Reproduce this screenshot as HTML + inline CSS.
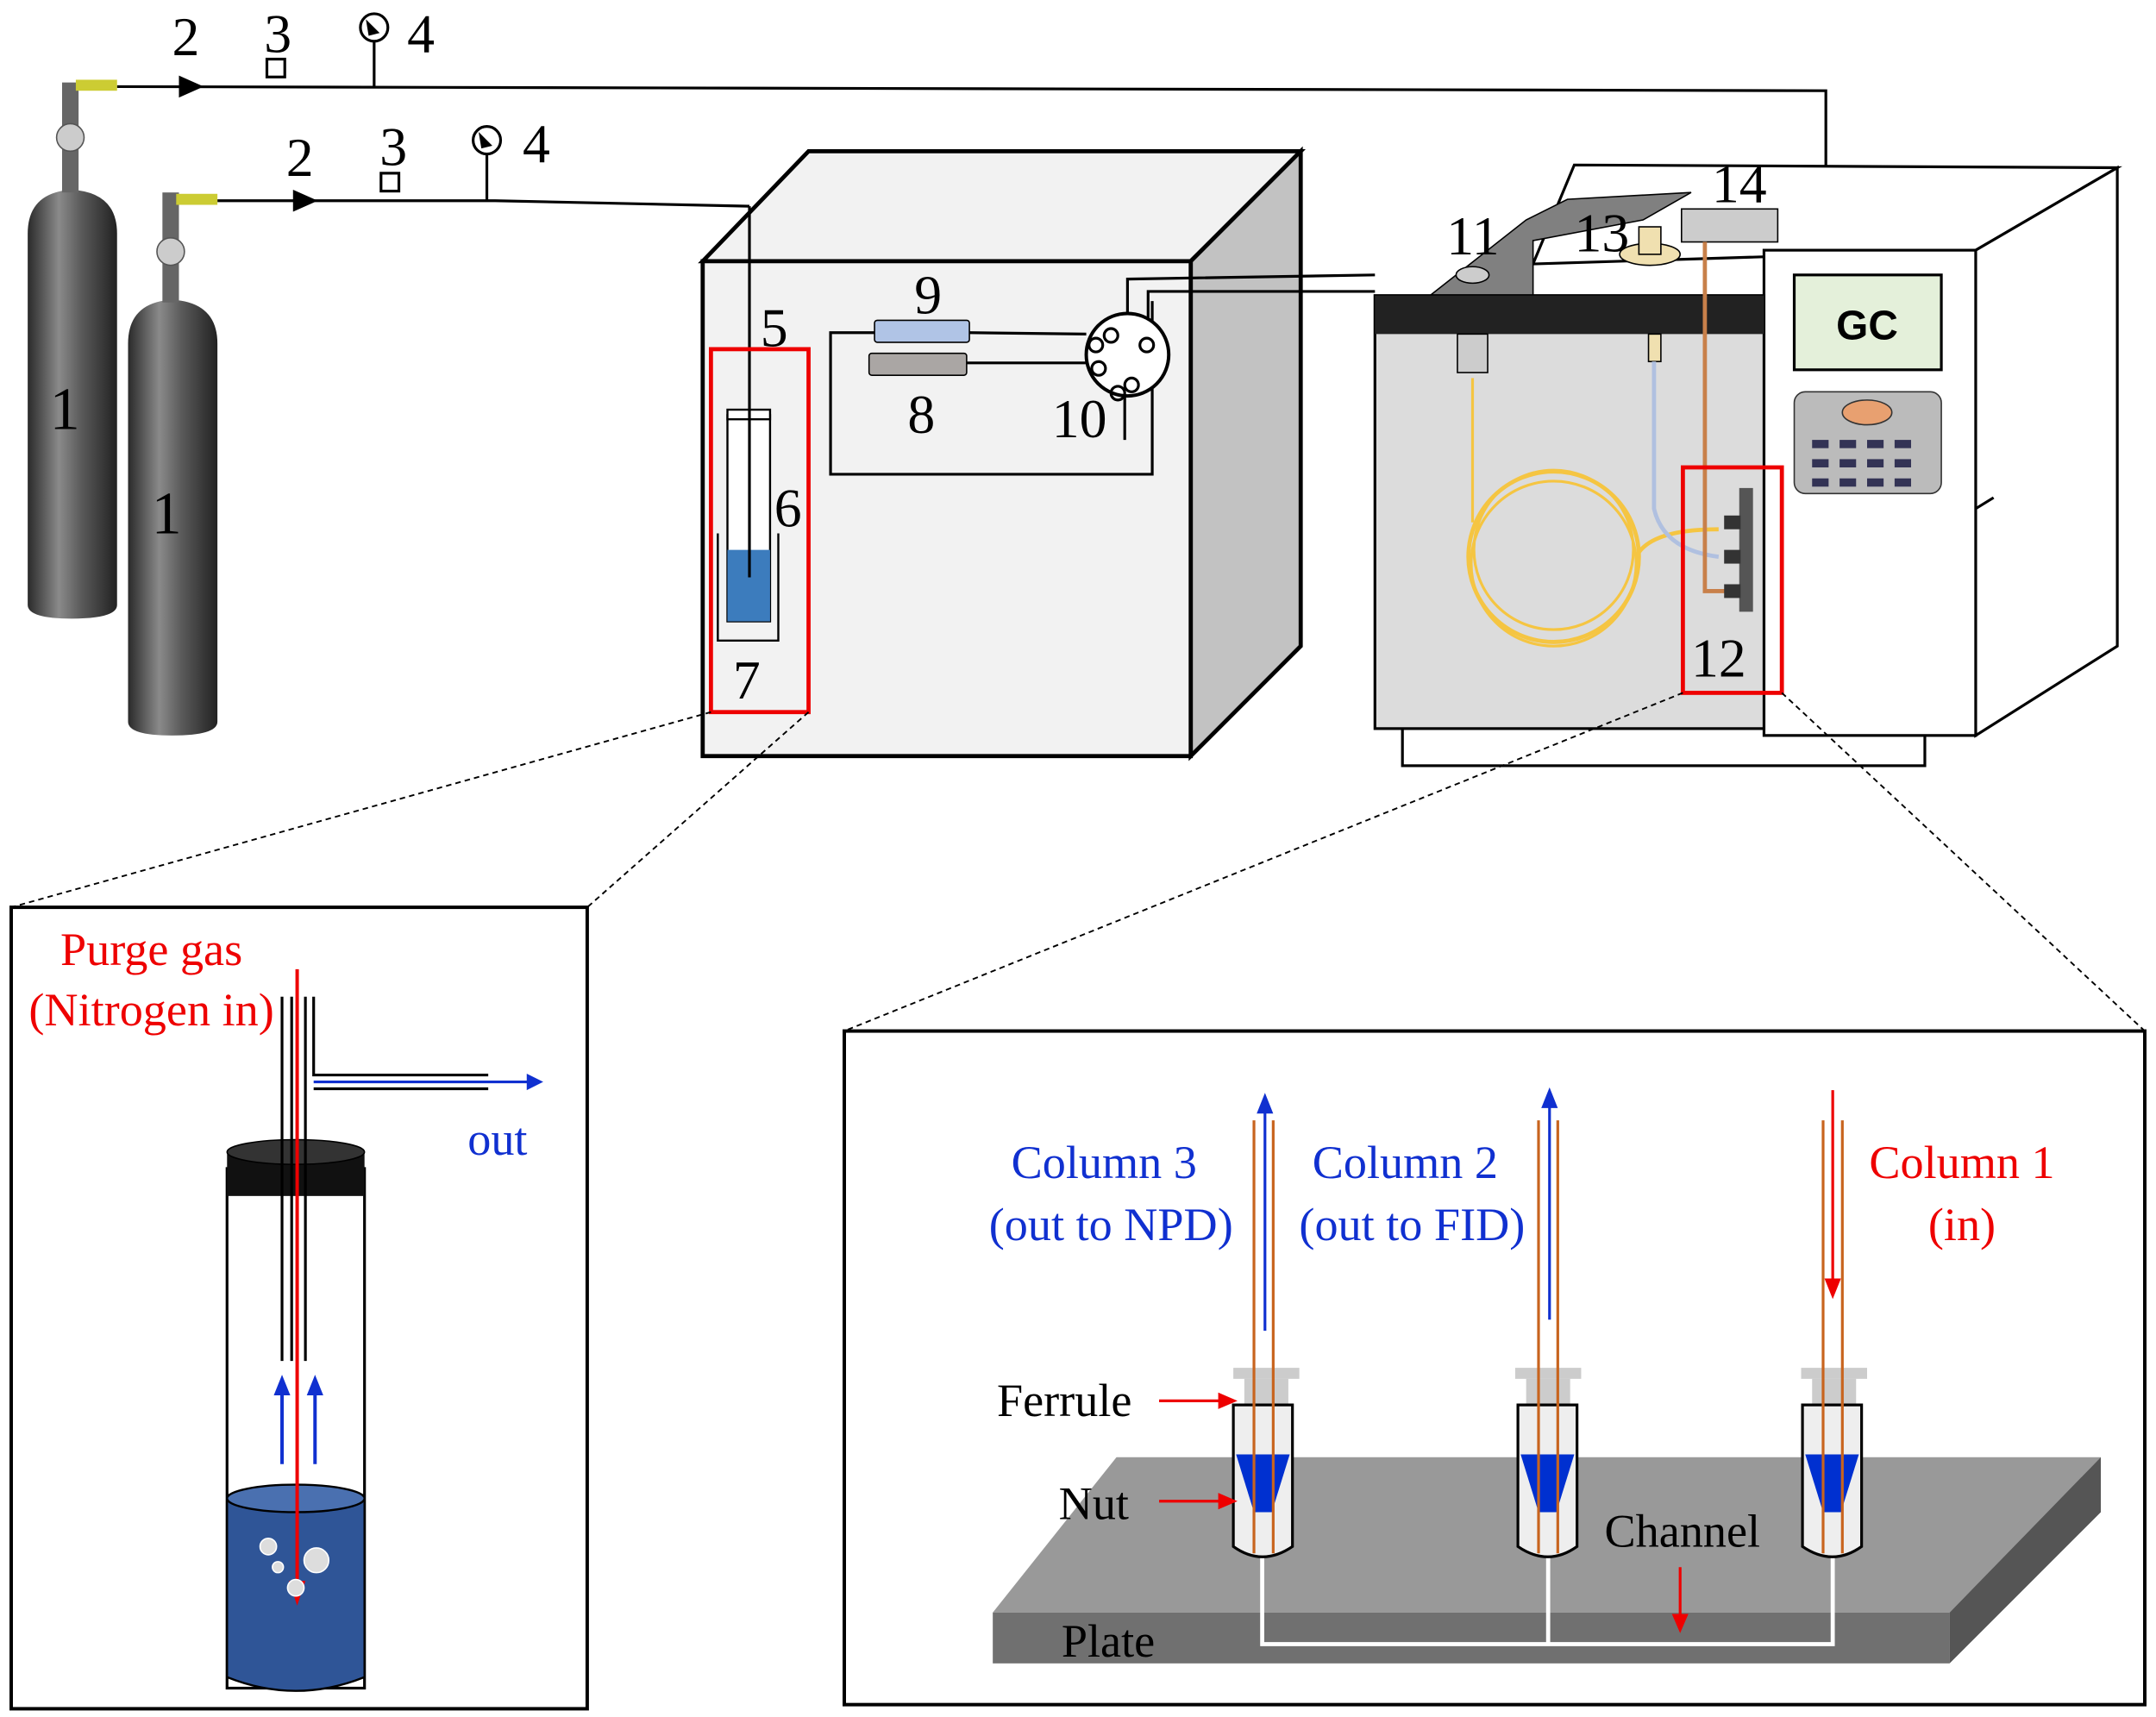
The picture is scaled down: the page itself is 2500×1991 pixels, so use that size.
<!DOCTYPE html>
<html><head><meta charset="utf-8"><style>html,body{margin:0;padding:0;background:#fff}svg{display:block}</style></head>
<body>
<svg width="2500" height="1991" viewBox="0 0 1568 1249" xmlns="http://www.w3.org/2000/svg" font-family="Liberation Serif, serif">
<defs>
<linearGradient id="cyl" x1="0" x2="1"><stop offset="0" stop-color="#2a2a2a"/><stop offset=".35" stop-color="#8a8a8a"/><stop offset=".6" stop-color="#5a5a5a"/><stop offset="1" stop-color="#222"/></linearGradient>
</defs>
<!-- gas lines -->
<g stroke="#000" stroke-width="2" fill="none">
<polyline points="85,63 1328,66 1328,155"/>
<polyline points="158,146 360,146 545,150"/>
<line x1="272" y1="28" x2="272" y2="63"/><line x1="354" y1="112" x2="354" y2="146"/>
<rect x="194" y="43" width="13" height="13" fill="#fff"/><rect x="277" y="126" width="13" height="13" fill="#fff"/>
<circle cx="272" cy="20" r="10" fill="#fff"/><circle cx="354" cy="102" r="10" fill="#fff"/>
</g>
<polygon points="130,55 148,63 130,71" /><polygon points="213,138 231,146 213,154"/>
<polygon points="266,14 276,24 268,26"/><polygon points="348,96 358,106 350,108"/>
<g font-size="40"><text x="125" y="40">2</text><text x="192" y="38">3</text><text x="296" y="38">4</text>
<text x="208" y="128">2</text><text x="276" y="120">3</text><text x="380" y="118">4</text></g>
<!-- cylinders -->
<path d="M20,170 Q20,140 52,138 Q85,140 85,170 L85,440 Q85,450 52,450 Q20,450 20,440 Z" fill="url(#cyl)"/>
<rect x="45" y="60" width="12" height="80" fill="#666"/><circle cx="51" cy="100" r="10" fill="#ccc" stroke="#555"/><rect x="55" y="58" width="30" height="8" fill="#cc3"/>
<path d="M93,250 Q93,220 125,218 Q158,220 158,250 L158,525 Q158,535 125,535 Q93,535 93,525 Z" fill="url(#cyl)"/>
<rect x="118" y="140" width="12" height="80" fill="#666"/><circle cx="124" cy="183" r="10" fill="#ccc" stroke="#555"/><rect x="128" y="141" width="30" height="8" fill="#cc3"/>
<text x="36" y="312" font-size="44">1</text><text x="110" y="388" font-size="44">1</text>
<!-- box 1 -->
<polygon points="511,190 588,110 946,110 866,190" fill="#f2f2f2" stroke="#000" stroke-width="3"/>
<polygon points="866,190 946,110 946,470 866,550" fill="#c2c2c2" stroke="#000" stroke-width="3"/>
<rect x="511" y="190" width="355" height="360" fill="#f2f2f2" stroke="#000" stroke-width="3"/>
<g stroke="#000" stroke-width="2" fill="none">
<polyline points="636,242 604,242 604,345 838,345 838,219"/>
<line x1="705" y1="242" x2="790" y2="243"/><line x1="703" y1="264" x2="790" y2="264"/>
<polyline points="820,253 820,203 1000,200"/><polyline points="835,232 835,212 1000,212"/>
<line x1="818" y1="268" x2="818" y2="320"/>
</g>
<rect x="636" y="233" width="69" height="16" rx="2" fill="#b0c4e6" stroke="#000"/>
<rect x="632" y="257" width="71" height="16" rx="2" fill="#aaa6a4" stroke="#000"/>
<circle cx="820" cy="258" r="30" fill="#fff" stroke="#000" stroke-width="2.5"/>
<g fill="none" stroke="#000" stroke-width="2"><circle cx="808" cy="244" r="5"/><circle cx="834" cy="251" r="5"/><circle cx="799" cy="268" r="5"/><circle cx="823" cy="280" r="5"/><circle cx="813" cy="286" r="5"/><circle cx="797" cy="251" r="5"/></g>
<text x="665" y="228" font-size="40">9</text><text x="660" y="315" font-size="40">8</text><text x="765" y="318" font-size="40">10</text>
<text x="553" y="252" font-size="40">5</text><text x="563" y="383" font-size="40">6</text><text x="533" y="508" font-size="40">7</text>
<!-- vessel in box -->
<rect x="529" y="302" width="31" height="150" fill="#fff" stroke="#000" stroke-width="1.5"/>
<rect x="529" y="400" width="31" height="52" fill="#3c7cbd"/>
<rect x="529" y="298" width="31" height="7" fill="#fff" stroke="#000" stroke-width="1.5"/>
<polyline points="522,388 522,466 566,466 566,388" fill="none" stroke="#000" stroke-width="1.5"/>
<polyline points="545,150 545,420" fill="none" stroke="#000" stroke-width="2"/>
<rect x="517" y="254" width="71" height="264" fill="none" stroke="#e00" stroke-width="3"/>
<!-- GC -->
<polygon points="1115,192 1145,120 1540,122 1437,182" fill="#fff" stroke="#000" stroke-width="2"/>
<polygon points="1040,215 1110,160 1140,145 1230,140 1195,160 1115,175 1115,215" fill="#808080" stroke="#000" stroke-width="1"/>
<polygon points="1437,182 1540,122 1540,470 1437,535" fill="#fff" stroke="#000" stroke-width="2"/>
<rect x="1020" y="525" width="380" height="32" fill="#fff" stroke="#000" stroke-width="2"/>
<rect x="1283" y="182" width="154" height="353" fill="#fff" stroke="#000" stroke-width="2"/>
<polyline points="1437,370 1450,362" stroke="#000" stroke-width="2"/>
<rect x="1000" y="215" width="283" height="315" fill="#dcdcdc" stroke="#000" stroke-width="2"/>
<rect x="1000" y="215" width="283" height="28" fill="#222"/>
<rect x="1305" y="200" width="107" height="69" fill="#e4f0da" stroke="#000" stroke-width="2"/>
<text x="1358" y="247" font-size="30" font-weight="bold" font-family="Liberation Sans, sans-serif" text-anchor="middle">GC</text>
<rect x="1305" y="285" width="107" height="74" rx="8" fill="#bbb" stroke="#333"/>
<ellipse cx="1358" cy="300" rx="18" ry="9" fill="#e8a070" stroke="#333"/>
<g fill="#335">
<rect x="1318" y="320" width="12" height="6"/><rect x="1338" y="320" width="12" height="6"/><rect x="1358" y="320" width="12" height="6"/><rect x="1378" y="320" width="12" height="6"/>
<rect x="1318" y="334" width="12" height="6"/><rect x="1338" y="334" width="12" height="6"/><rect x="1358" y="334" width="12" height="6"/><rect x="1378" y="334" width="12" height="6"/>
<rect x="1318" y="348" width="12" height="6"/><rect x="1338" y="348" width="12" height="6"/><rect x="1358" y="348" width="12" height="6"/><rect x="1378" y="348" width="12" height="6"/></g>
<rect x="1060" y="243" width="22" height="28" fill="#ccc" stroke="#000"/><ellipse cx="1071" cy="200" rx="12" ry="6" fill="#ccc" stroke="#000"/>
<rect x="1223" y="152" width="70" height="24" fill="#ccc" stroke="#000"/>
<ellipse cx="1200" cy="185" rx="22" ry="8" fill="#f0e0b0" stroke="#000"/><rect x="1192" y="165" width="16" height="20" fill="#f0e0b0" stroke="#000"/>
<rect x="1199" y="243" width="9" height="20" fill="#f0e0b0" stroke="#000"/>
<g fill="none" stroke-width="2">
<path d="M1071,275 L1071,380 " stroke="#f5c542"/>
<ellipse cx="1130" cy="405" rx="62" ry="62" stroke="#f5c542" stroke-width="3"/>
<ellipse cx="1130" cy="400" rx="58" ry="58" stroke="#f5c542"/>
<ellipse cx="1130" cy="410" rx="60" ry="60" stroke="#f5c542"/>
<path d="M1190,405 Q1200,385 1250,385" stroke="#f5c542" stroke-width="3"/>
<path d="M1203,263 L1203,370 Q1210,400 1250,405" stroke="#b0c0e0" stroke-width="3"/>
<path d="M1240,176 L1240,430 L1255,430" stroke="#c8804a" stroke-width="3"/>
</g>
<rect x="1265" y="355" width="10" height="90" fill="#555"/>
<rect x="1254" y="375" width="12" height="10" fill="#333"/><rect x="1254" y="400" width="12" height="10" fill="#333"/><rect x="1254" y="425" width="12" height="10" fill="#333"/>
<rect x="1224" y="340" width="72" height="164" fill="none" stroke="#e00" stroke-width="3"/>
<g font-size="40"><text x="1052" y="185">11</text><text x="1145" y="183">13</text><text x="1245" y="147">14</text><text x="1230" y="492">12</text></g>
<!-- dashed lines -->
<g stroke="#000" stroke-width="1.2" stroke-dasharray="4,3">
<line x1="517" y1="518" x2="8" y2="660"/><line x1="588" y1="518" x2="427" y2="660"/>
<line x1="1224" y1="504" x2="614" y2="750"/><line x1="1296" y1="504" x2="1560" y2="750"/>
</g>
<!-- left inset -->
<rect x="8" y="660" width="419" height="583" fill="#fff" stroke="#000" stroke-width="2.5"/>
<rect x="165" y="850" width="100" height="378" fill="#fff" stroke="#000" stroke-width="2"/>
<path d="M165,1090 L165,1220 Q215,1240 265,1220 L265,1090 Z" fill="#2f5597" stroke="#000" stroke-width="1.5"/>
<ellipse cx="215" cy="1090" rx="50" ry="10" fill="#4a70b0" stroke="#000" stroke-width="1.5"/>
<rect x="165" y="838" width="100" height="32" fill="#111"/><ellipse cx="215" cy="838" rx="50" ry="9" fill="#333" stroke="#000"/>
<g stroke="#000" stroke-width="2" fill="none">
<line x1="205" y1="725" x2="205" y2="990"/><line x1="212" y1="725" x2="212" y2="990"/><line x1="222" y1="725" x2="222" y2="990"/>
<polyline points="228,725 228,782 355,782"/><line x1="228" y1="792" x2="355" y2="792"/>
</g>
<line x1="228" y1="787" x2="385" y2="787" stroke="#1030d0" stroke-width="2"/><polygon points="383,781 395,787 383,793" fill="#1030d0"/>
<line x1="216" y1="705" x2="216" y2="1160" stroke="#e00" stroke-width="2.5"/><polygon points="210,1150 216,1168 222,1150" fill="#e00"/>
<g stroke="#1030d0" stroke-width="2.5"><line x1="205" y1="1065" x2="205" y2="1010"/><line x1="229" y1="1065" x2="229" y2="1010"/></g>
<polygon points="199,1015 205,1000 211,1015" fill="#1030d0"/><polygon points="223,1015 229,1000 235,1015" fill="#1030d0"/>
<g fill="#ddd" stroke="#fff"><circle cx="230" cy="1135" r="9"/><circle cx="195" cy="1125" r="6"/><circle cx="215" cy="1155" r="6"/><circle cx="202" cy="1140" r="4"/></g>
<text x="110" y="702" font-size="34" fill="#e00" text-anchor="middle">Purge gas</text>
<text x="110" y="746" font-size="34" fill="#e00" text-anchor="middle">(Nitrogen in)</text>
<text x="340" y="840" font-size="34" fill="#1030d0">out</text>
<!-- right inset -->
<rect x="614" y="750" width="946" height="490" fill="#fff" stroke="#000" stroke-width="2.5"/>
<polygon points="722,1173 812,1060 1528,1060 1418,1173" fill="#999"/>
<rect x="722" y="1173" width="696" height="37" fill="#707070"/>
<polygon points="1418,1173 1528,1060 1528,1100 1418,1210" fill="#555"/>
<polyline points="918,1130 918,1196 1333,1196 1333,1130" fill="none" stroke="#fff" stroke-width="3"/>
<line x1="1126" y1="1130" x2="1126" y2="1196" stroke="#fff" stroke-width="3"/>
<g>
<rect x="897" y="995" width="48" height="8" fill="#ccc"/><rect x="905" y="1003" width="32" height="22" fill="#ccc"/>
<path d="M897,1022 L940,1022 L940,1125 Q918,1140 897,1125 Z" fill="#eee" stroke="#000" stroke-width="2"/>
<polygon points="899,1058 938,1058 925,1100 912,1100" fill="#0030d0"/>
<rect x="1102" y="995" width="48" height="8" fill="#ccc"/><rect x="1110" y="1003" width="32" height="22" fill="#ccc"/>
<path d="M1104,1022 L1147,1022 L1147,1125 Q1126,1140 1104,1125 Z" fill="#eee" stroke="#000" stroke-width="2"/>
<polygon points="1106,1058 1145,1058 1132,1100 1119,1100" fill="#0030d0"/>
<rect x="1310" y="995" width="48" height="8" fill="#ccc"/><rect x="1318" y="1003" width="32" height="22" fill="#ccc"/>
<path d="M1311,1022 L1354,1022 L1354,1125 Q1333,1140 1311,1125 Z" fill="#eee" stroke="#000" stroke-width="2"/>
<polygon points="1313,1058 1352,1058 1339,1100 1326,1100" fill="#0030d0"/>
</g>
<g stroke="#c8641e" stroke-width="2">
<line x1="912" y1="815" x2="912" y2="1130"/><line x1="926" y1="815" x2="926" y2="1130"/>
<line x1="1119" y1="815" x2="1119" y2="1130"/><line x1="1133" y1="815" x2="1133" y2="1130"/>
<line x1="1326" y1="815" x2="1326" y2="1130"/><line x1="1340" y1="815" x2="1340" y2="1130"/>
</g>
<g stroke="#1030d0" stroke-width="2"><line x1="920" y1="805" x2="920" y2="968"/><line x1="1127" y1="800" x2="1127" y2="960"/></g>
<polygon points="914,810 920,795 926,810" fill="#1030d0"/><polygon points="1121,806 1127,791 1133,806" fill="#1030d0"/>
<line x1="1333" y1="793" x2="1333" y2="935" stroke="#e00" stroke-width="2"/><polygon points="1327,930 1333,945 1339,930" fill="#e00"/>
<g font-size="34" text-anchor="middle">
<text x="803" y="857" fill="#1030d0">Column 3</text><text x="808" y="902" fill="#1030d0">(out to NPD)</text>
<text x="1022" y="857" fill="#1030d0">Column 2</text><text x="1027" y="902" fill="#1030d0">(out to FID)</text>
<text x="1427" y="857" fill="#e00">Column 1</text><text x="1427" y="902" fill="#e00">(in)</text>
</g>
<g font-size="34"><text x="725" y="1030">Ferrule</text><text x="770" y="1105">Nut</text><text x="1167" y="1125">Channel</text><text x="772" y="1205">Plate</text></g>
<g stroke="#e00" stroke-width="2"><line x1="843" y1="1019" x2="890" y2="1019"/><line x1="843" y1="1092" x2="890" y2="1092"/><line x1="1222" y1="1140" x2="1222" y2="1178"/></g>
<polygon points="886,1013 900,1019 886,1025" fill="#e00"/><polygon points="886,1086 900,1092 886,1098" fill="#e00"/><polygon points="1216,1174 1222,1188 1228,1174" fill="#e00"/>
</svg>
</body></html>
